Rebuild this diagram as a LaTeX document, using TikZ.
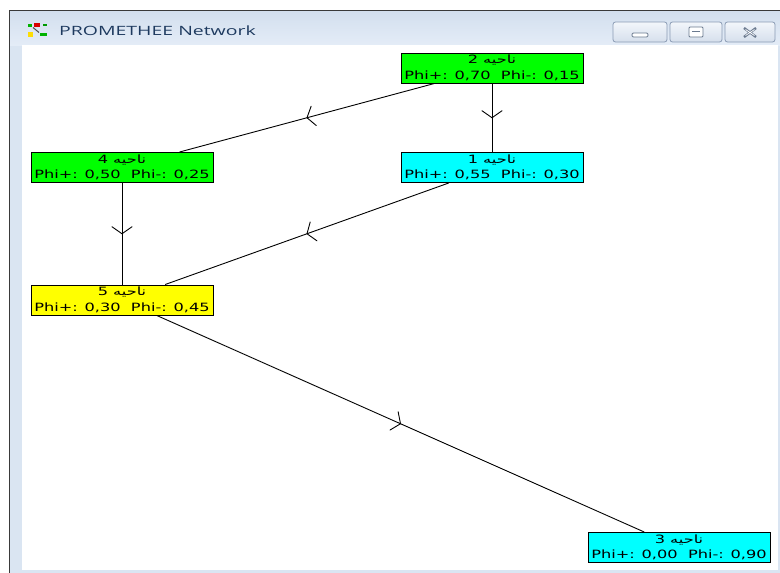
\documentclass[tikz,border=0pt]{standalone}
\usepackage{fontspec}
\setmainfont{DejaVu Sans}
\newfontfamily\nodefont[FakeStretch=1.42]{DejaVu Sans}
\newfontfamily\arabicfont[Script=Arabic,FakeStretch=1.42]{DejaVu Sans}
\newfontfamily\titlefont[FakeStretch=1.52]{Open Sans}
\TeXXeTstate=1
\usetikzlibrary{decorations.markings}
\definecolor{framebl}{HTML}{DAE5F2}
\definecolor{tbtop}{HTML}{E4ECF7}
\definecolor{tbbot}{HTML}{D3DFEE}
\definecolor{winedge}{HTML}{3A3A3A}
\definecolor{titletext}{HTML}{1E3A5F}
\definecolor{btnedge}{HTML}{8A9BB4}
\definecolor{btntop}{HTML}{F3F6FB}
\definecolor{btnbot}{HTML}{D5DFEC}
\definecolor{btnicon}{HTML}{6B7A8F}
\definecolor{ngreen}{HTML}{00FF00}
\definecolor{ncyan}{HTML}{00FFFF}
\definecolor{nyellow}{HTML}{FFFF00}
\tikzset{
  box/.style={draw=black, line width=1pt, minimum width=182pt, minimum height=30pt,
    inner sep=0pt, align=center, font=\nodefont\fontsize{11.4}{15.5}\selectfont},
  link/.style={draw=black, line width=0.9pt},
  midarrow/.style={postaction={decorate}, decoration={markings,
    mark=at position 0.5 with {\draw[line width=0.9pt, line cap=round]
      (-7,10) .. controls (-3,5) .. (0,0)
      .. controls (-3,-5) .. (-7,-10);}}},
  winbtn/.style={draw=btnedge, line width=0.8pt, rounded corners=2.5pt,
    top color=btntop, bottom color=btnbot}
}
\newcommand{\nlabel}[3]{{\arabicfont\beginR ناحیه #1\endR}\\Phi+: #2\ \ Phi-: #3}
\begin{document}
\begin{tikzpicture}[x=1pt,y=-1pt]
\useasboundingbox (0,0) rectangle (780,573);
\fill[white] (0,0) rectangle (780,573);
% window frame
\fill[framebl] (9,10) rectangle (780,573);
\shade[top color=tbbot, bottom color=tbtop] (10,11) rectangle (780,45);
\fill[white] (22,45) rectangle (778,570);
\draw[winedge, line width=1.3pt] (9.6,573) -- (9.6,10.6) -- (780,10.6);
% title icon
\fill[green!70!black] (28,23.5) rectangle (32,27);
\fill[red!85!black] (34,23) rectangle (40,27);
\fill[green!60!black] (43,23.5) rectangle (47,26);
\draw[gray!60!black, line width=1pt] (33,27.5) -- (39,32.5);
\fill[yellow!80!orange] (28,32) rectangle (33,37);
\fill[green!70!black] (40,33) rectangle (47,36);
\node[anchor=west, inner sep=0pt, text=titletext, font=\titlefont\fontsize{12.8}{14}\selectfont] (title) at (59,31) {PROMETHEE Network};
% window buttons
\draw[winbtn] (613,22) rectangle (667,42);
\draw[winbtn] (670,22) rectangle (722,42);
\draw[winbtn] (725,22) rectangle (775,42);
\draw[btnicon, line width=0.9pt, fill=white, rounded corners=1.2pt] (632,33) rectangle (648,37);
\draw[btnicon, line width=0.9pt, fill=white, rounded corners=1pt] (689,27) rectangle (703,37);
\draw[btnicon, line width=1.6pt] (692,31.5) -- (700,31.5);
\draw[btnicon, line width=2.4pt] (744,28) -- (756,37) (744,37) -- (756,28);
\draw[white, line width=0.7pt] (745.5,29.5) -- (754.5,35.5) (745.5,35.5) -- (754.5,29.5);
% nodes
\node[box, fill=ngreen]  (n2) at (492,68)    {\nlabel{2}{0,70}{0,15}};
\node[box, fill=ncyan]   (n1) at (492,167.5) {\nlabel{1}{0,55}{0,30}};
\node[box, fill=ngreen]  (n4) at (122,167.5) {\nlabel{4}{0,50}{0,25}};
\node[box, fill=nyellow] (n5) at (122,300)   {\nlabel{5}{0,30}{0,45}};
\node[box, fill=ncyan]   (n3) at (679,547.5) {\nlabel{3}{0,00}{0,90}};
% links
\draw[link, midarrow] (n2) -- (n4);
\draw[link, midarrow] (n2) -- (n1);
\draw[link, midarrow] (n4) -- (n5);
\draw[link, midarrow] (n1) -- (n5);
\draw[link, midarrow] (n5) -- (n3);
\end{tikzpicture}
\end{document}
